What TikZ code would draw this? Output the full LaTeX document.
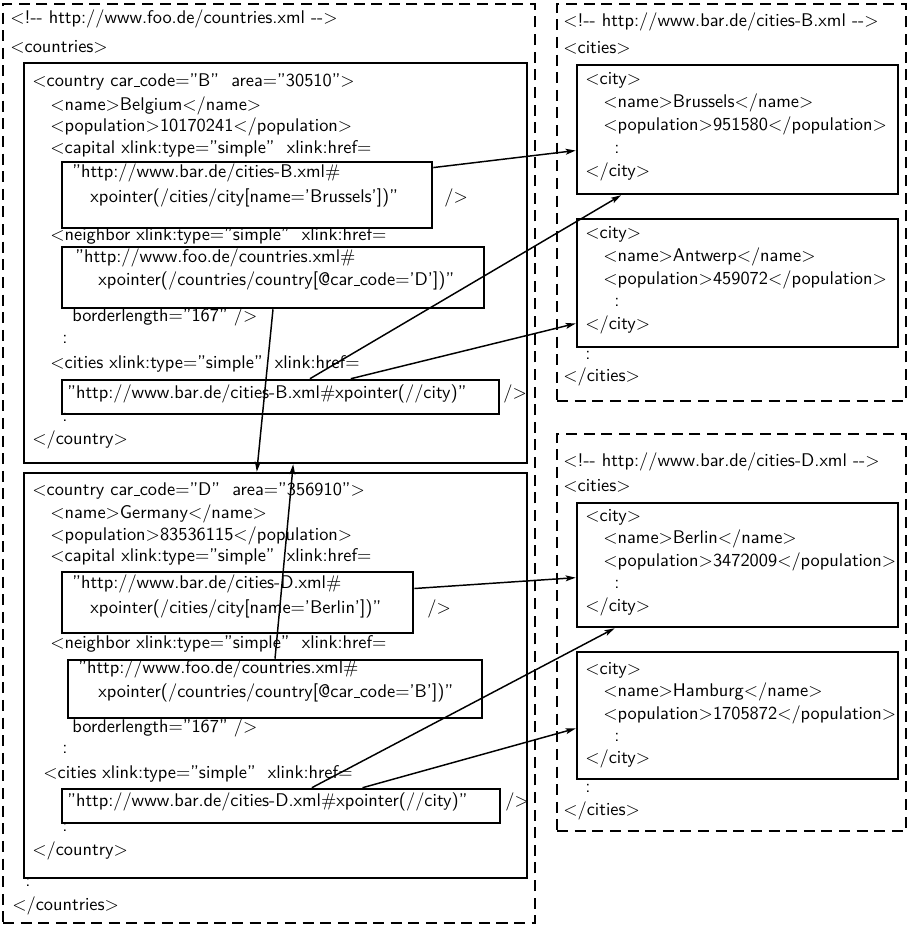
\documentclass[tikz,border=0pt]{standalone}
\usetikzlibrary{fit,calc,arrows.meta}
\newcommand{\xlt}{\ensuremath{<}}
\newcommand{\xgt}{\ensuremath{>}}
\newcommand{\xeq}{\ensuremath{=}}
\newcommand{\xus}{\leavevmode\kern.06em\vbox{\hrule width.3em}}
\newcommand{\xsp}{\ \ }
\begin{document}
\begin{tikzpicture}[x=0.5447pt,y=-0.5447pt,
  txt/.style={anchor=mid west,inner sep=0pt,font=\sffamily},
  frame/.style={draw,line width=1.0pt,dash pattern=on 6pt off 3.6pt,inner sep=0pt},
  box/.style={draw,line width=1.4pt,inner sep=0pt},
  arr/.style={line width=0.8pt,-{Stealth[length=5.5pt,width=3.2pt,inset=1.2pt]}}]
\useasboundingbox (0,0) rectangle (911,927);
% frames
\node[frame,fit={(3,4) (535,923)}] (fC) {};
\node[frame,fit={(557,4) (906,401)}] (fB) {};
\node[frame,fit={(557,434) (906,831)}] (fD) {};
% country boxes
\node[box,fit={(24,63) (527,463)}] (cB) {};
\node[box,fit={(24,473) (527,878)}] (cD) {};
\node[box,fit={(62,162) (432,228)}] (capB) {};
\node[box,fit={(62,247) (484,308)}] (nbB) {};
\node[box,fit={(62,380) (499,414)}] (citB) {};
\node[box,fit={(62,572) (413,633)}] (capD) {};
\node[box,fit={(68,660) (482,718)}] (nbD) {};
\node[box,fit={(62,789) (500,823)}] (citD) {};
% city boxes
\node[box,fit={(577,65) (898,194)}] (brus) {};
\node[box,fit={(577,219) (898,347)}] (antw) {};
\node[box,fit={(577,503) (898,627)}] (berl) {};
\node[box,fit={(577,652) (898,779)}] (hamb) {};
% left texts
\node[txt] (l0) at (10,20) {\xlt!-{}- http://www.foo.de/countries.xml -{}-\xgt};
\node[txt] (l1) at (10,49) {\xlt countries\xgt};
\node[txt] (b1) at (32,83) {\xlt country car\xus code\xeq''B''\xsp area\xeq''30510''\xgt};
\node[txt] (b2) at (50,107) {\xlt name\xgt Belgium\xlt /name\xgt};
\node[txt] (b3) at (50,128) {\xlt population\xgt 10170241\xlt /population\xgt};
\node[txt] (b4) at (50,150) {\xlt capital xlink:type\xeq''simple''\xsp xlink:href\xeq};
\node[txt] (b5) at (72,174) {''http://www.bar.de/cities-B.xml\#};
\node[txt] (b6) at (90,199) {xpointer(/cities/city[name\xeq'Brussels'])''};
\node[txt] (b7) at (444,199) {/\xgt};
\node[txt] (b8) at (50,237) {\xlt neighbor xlink:type\xeq''simple''\xsp xlink:href\xeq};
\node[txt] (b9) at (75,259) {''http://www.foo.de/countries.xml\#};
\node[txt] (b10) at (98,282) {xpointer(/countries/country[@car\xus code\xeq'D'])''};
\node[txt] (b11) at (72,318) {borderlength\xeq''167'' /\xgt};
\node[txt] (b12) at (62,340) {:};
\node[txt] (b13) at (50,365) {\xlt cities xlink:type\xeq''simple''\xsp xlink:href\xeq};
\node[txt] (b14) at (67,395) {''http://www.bar.de/cities-B.xml\#xpointer(//city)''};
\node[txt] (b15) at (503,395) {/\xgt};
\node[txt] (b16) at (62,418) {:};
\node[txt] (b17) at (32,441) {\xlt /country\xgt};
\node[txt] (d1) at (32,492) {\xlt country car\xus code\xeq''D''\xsp area\xeq''356910''\xgt};
\node[txt] (d2) at (50,515) {\xlt name\xgt Germany\xlt /name\xgt};
\node[txt] (d3) at (50,537) {\xlt population\xgt 83536115\xlt /population\xgt};
\node[txt] (d4) at (50,558) {\xlt capital xlink:type\xeq''simple''\xsp xlink:href\xeq};
\node[txt] (d5) at (72,585) {''http://www.bar.de/cities-D.xml\#};
\node[txt] (d6) at (90,610) {xpointer(/cities/city[name\xeq'Berlin'])''};
\node[txt] (d7) at (427,610) {/\xgt};
\node[txt] (d8) at (50,645) {\xlt neighbor xlink:type\xeq''simple''\xsp xlink:href\xeq};
\node[txt] (d9) at (78,670) {''http://www.foo.de/countries.xml\#};
\node[txt] (d10) at (98,694) {xpointer(/countries/country[@car\xus code\xeq'B'])''};
\node[txt] (d11) at (72,729) {borderlength\xeq''167'' /\xgt};
\node[txt] (d12) at (62,750) {:};
\node[txt] (d13) at (43,775) {\xlt cities xlink:type\xeq''simple''\xsp xlink:href\xeq};
\node[txt] (d14) at (67,803) {''http://www.bar.de/cities-D.xml\#xpointer(//city)''};
\node[txt] (d15) at (505,803) {/\xgt};
\node[txt] (d16) at (62,828) {:};
\node[txt] (d17) at (32,852) {\xlt /country\xgt};
\node[txt] (l2) at (25,883) {:};
\node[txt] (l3) at (12,907) {\xlt /countries\xgt};
% right top texts
\node[txt] (r0) at (563,23) {\xlt!-{}- http://www.bar.de/cities-B.xml -{}-\xgt};
\node[txt] (r1) at (563,50) {\xlt cities\xgt};
\node[txt] (r2) at (585,81) {\xlt city\xgt};
\node[txt] (r3) at (603,104) {\xlt name\xgt Brussels\xlt /name\xgt};
\node[txt] (r4) at (603,127) {\xlt population\xgt 951580\xlt /population\xgt};
\node[txt] (r5) at (614,150) {:};
\node[txt] (r6) at (585,173) {\xlt /city\xgt};
\node[txt] (r7) at (585,235) {\xlt city\xgt};
\node[txt] (r8) at (603,258) {\xlt name\xgt Antwerp\xlt /name\xgt};
\node[txt] (r9) at (603,281) {\xlt population\xgt 459072\xlt /population\xgt};
\node[txt] (r10) at (614,303) {:};
\node[txt] (r11) at (585,326) {\xlt /city\xgt};
\node[txt] (r12) at (585,356) {:};
\node[txt] (r13) at (563,378) {\xlt /cities\xgt};
% right bottom texts
\node[txt] (s0) at (563,463) {\xlt!-{}- http://www.bar.de/cities-D.xml -{}-\xgt};
\node[txt] (s1) at (563,488) {\xlt cities\xgt};
\node[txt] (s2) at (585,518) {\xlt city\xgt};
\node[txt] (s3) at (603,540) {\xlt name\xgt Berlin\xlt /name\xgt};
\node[txt] (s4) at (603,563) {\xlt population\xgt 3472009\xlt /population\xgt};
\node[txt] (s5) at (614,585) {:};
\node[txt] (s6) at (585,608) {\xlt /city\xgt};
\node[txt] (s7) at (585,671) {\xlt city\xgt};
\node[txt] (s8) at (603,693) {\xlt name\xgt Hamburg\xlt /name\xgt};
\node[txt] (s9) at (603,716) {\xlt population\xgt 1705872\xlt /population\xgt};
\node[txt] (s10) at (614,738) {:};
\node[txt] (s11) at (585,760) {\xlt /city\xgt};
\node[txt] (s12) at (585,789) {:};
\node[txt] (s13) at (563,812) {\xlt /cities\xgt};
% arrows
\draw[arr] ($(capB.north east)!0.1!(capB.south east)$) -- ($(brus.north west)!0.66!(brus.south west)$);
\draw[arr] ($(citB.north west)!0.567!(citB.north east)$) -- ($(brus.south west)!0.14!(brus.south east)$);
\draw[arr] ($(citB.north west)!0.66!(citB.north east)$) -- ($(antw.north west)!0.81!(antw.south west)$);
\draw[arr] ($(nbB.south west)!0.5!(nbB.south east)$) -- ($(cD.north west)!0.463!(cD.north east)$);
\draw[arr] ($(nbD.north west)!0.5!(nbD.north east)$) -- ($(cB.south west)!0.535!(cB.south east)$);
\draw[arr] ($(capD.north east)!0.28!(capD.south east)$) -- ($(berl.north west)!0.6!(berl.south west)$);
\draw[arr] ($(citD.north west)!0.57!(citD.north east)$) -- ($(berl.south west)!0.12!(berl.south east)$);
\draw[arr] ($(citD.north west)!0.685!(citD.north east)$) -- ($(hamb.north west)!0.6!(hamb.south west)$);
\end{tikzpicture}
\end{document}
